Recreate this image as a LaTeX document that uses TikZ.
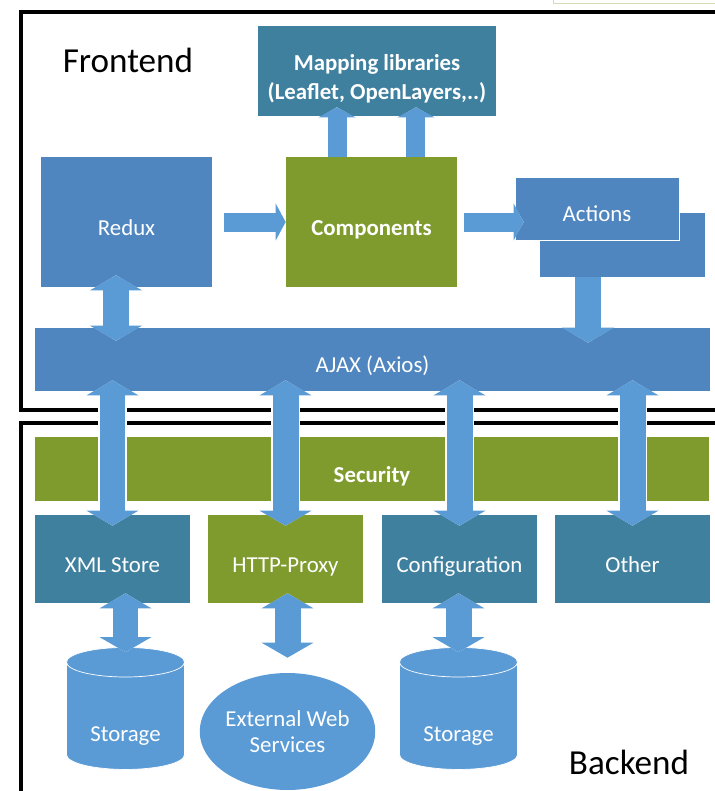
\documentclass[tikz,border=0pt]{standalone}
\usepackage{fontspec}
\setmainfont{Carlito}
\usetikzlibrary{arrows.meta,positioning,shapes.geometric,calc}
\definecolor{arrowblue}{HTML}{5B9BD5}
\definecolor{boxblue}{HTML}{4F86BF}
\definecolor{tealbox}{HTML}{40809F}
\definecolor{olivebox}{HTML}{7F9B2E}
\definecolor{paleline}{HTML}{D3DDB5}

\tikzset{
  box/.style={rectangle,inner sep=0pt,text=white,align=center,text height=15pt,text depth=0pt,
    font=\fontsize{13}{15}\selectfont},
  boldbox/.style={box,font=\bfseries\fontsize{13}{16.5}\selectfont},
  db/.style={cylinder,shape border rotate=90,aspect=0.42,minimum width=2.36cm,minimum height=2.44cm,
    inner sep=0pt,fill=arrowblue,draw=white,thin,text=white,text height=29pt,text depth=0pt,
    font=\fontsize{13}{15}\selectfont},
  slim/.style={draw=arrowblue,line width=0.38cm,-{Triangle[length=0.2cm,width=0.74cm,line width=0pt]},
    preaction={draw=white,line width=0.44cm,-{Triangle[length=0.24cm,width=0.84cm,line width=0pt]}}},
  fat/.style={draw=arrowblue,line width=0.52cm,-{Triangle[length=0.3cm,width=1.04cm,line width=0pt]},
    preaction={draw=white,line width=0.58cm,-{Triangle[length=0.34cm,width=1.14cm,line width=0pt]}}},
  fatboth/.style={draw=arrowblue,line width=0.52cm,
    {Triangle[length=0.3cm,width=1.04cm,line width=0pt]}-{Triangle[length=0.3cm,width=1.04cm,line width=0pt]},
    preaction={draw=white,line width=0.58cm,
    {Triangle[length=0.34cm,width=1.14cm,line width=0pt]}-{Triangle[length=0.34cm,width=1.14cm,line width=0pt]}}},
}

\begin{document}
\begin{tikzpicture}[x=0.02cm,y=-0.02cm]
	\clip (0,0) rectangle (715,791);
	% frames
	\draw[line width=2pt] (21,12) rectangle (740,410);
	\draw[line width=2pt] (21,423) rectangle (740,820);
	\draw[paleline] (553,-10) rectangle (740,3);
	\node (frontlabel) [font=\fontsize{20}{24}\selectfont] at (128,60) {Frontend};
	\node (backlabel) [font=\fontsize{20}{24}\selectfont] at (629,762) {Backend};

	% frontend
	\node (mapping) [boldbox,fill=tealbox,minimum width=4.76cm,minimum height=1.8cm,text height=32.5pt] at (377,71) {Mapping libraries\\(Leaflet, OpenLayers,..)};
	\node (redux) [box,fill=boxblue,minimum width=3.42cm,minimum height=2.6cm] at (126.5,222) {Redux};
	\node (comp) [boldbox,fill=olivebox,minimum width=3.42cm,minimum height=2.6cm] at (371.5,222) {Components};
	\node (actback) [box,fill=boxblue,minimum width=3.3cm,minimum height=1.28cm] at (622.5,245) {};
	\node (actfront) [box,fill=boxblue,draw=white,thin,minimum width=3.28cm,minimum height=1.26cm] at (597,208.5) {Actions};
	\node (ajax) [box,fill=boxblue,minimum width=13.5cm,minimum height=1.26cm] at (372.5,359.5) {AJAX (Axios)};

	% backend
	\node (security) [boldbox,fill=olivebox,minimum width=13.48cm,minimum height=1.28cm] at (372,469) {Security};
	\node (xml) [box,fill=tealbox,minimum width=3.1cm,minimum height=1.76cm] at (112.5,559) {XML Store};
	\node (proxy) [box,fill=olivebox,minimum width=3.1cm,minimum height=1.76cm] at (285.5,559) {HTTP-Proxy};
	\node (config) [box,fill=tealbox,minimum width=3.1cm,minimum height=1.76cm] at (459.5,559) {Configuration};
	\node (other) [box,fill=tealbox,minimum width=3.1cm,minimum height=1.76cm] at (632.5,559) {Other};
	\node (store1) [db] at (125.5,716) {Storage};
	\node (web) [ellipse,fill=arrowblue,minimum width=3.1cm,minimum height=2.34cm,inner sep=0pt,
		text=white,align=center,font=\fontsize{13}{14.8}\selectfont] at (287.5,731.5) {External Web\\Services};
	\node (store2) [db] at (458.5,716) {Storage};

	% arrows
	\draw[slim,shorten <=0.24cm] (redux) -- (comp);
	\draw[slim,shorten <=0.14cm,shorten >=-0.18cm] (comp.east) -- (comp.east -| actfront.west);
	\draw[slim,shorten >=-0.18cm] ([xshift=-0.69cm]comp.north) -- ([xshift=-0.69cm]comp.north |- mapping.south);
	\draw[slim,shorten >=-0.18cm] ([xshift=0.89cm]comp.north) -- ([xshift=0.89cm]comp.north |- mapping.south);
	\draw[fat,shorten >=-0.3cm] ([xshift=-0.69cm]actback.south) -- ([xshift=-0.69cm]actback.south |- ajax.north);
	\draw[fatboth,shorten <=-0.24cm,shorten >=-0.26cm] ([xshift=-0.21cm]redux.south) -- ([xshift=-0.21cm]redux.south |- ajax.north);
	\foreach \b in {xml,proxy,config,other}
		\draw[fatboth,shorten <=-0.22cm,shorten >=-0.22cm] (ajax.south -| \b.north) -- (\b.north);
	\draw[fatboth,shorten <=-0.2cm,shorten >=-0.1cm] (xml.south -| store1.north) -- (store1.north);
	\draw[fatboth,shorten <=-0.2cm,shorten >=0.3cm] (proxy.south -| web.north) -- (web.north);
	\draw[fatboth,shorten <=-0.2cm,shorten >=-0.1cm] (config.south -| store2.north) -- (store2.north);
\end{tikzpicture}
\end{document}
